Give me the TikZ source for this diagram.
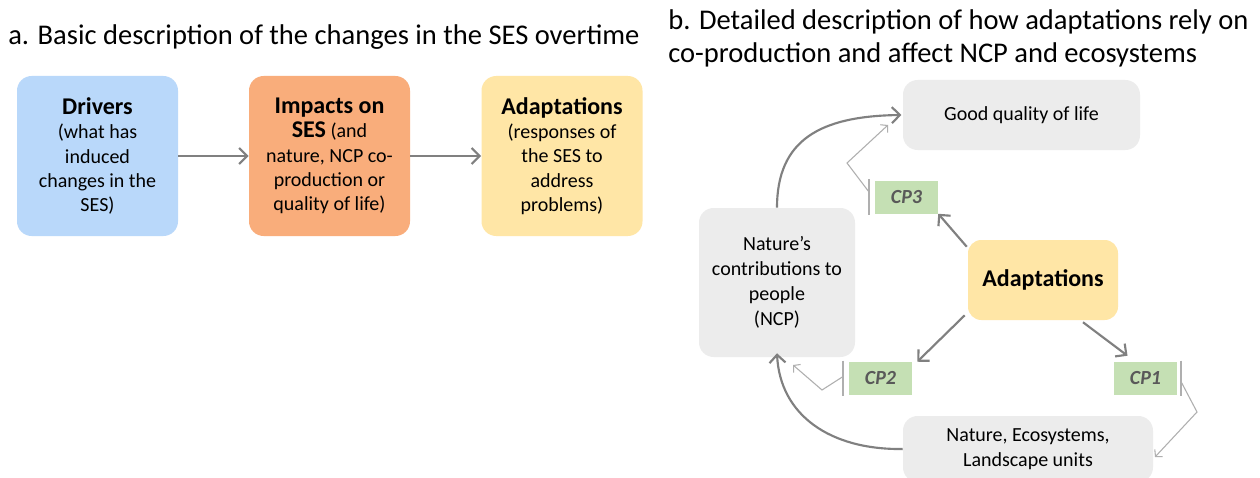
\documentclass[tikz,border=0pt]{standalone}
\usepackage{fontspec}
\setmainfont{Carlito}
\usetikzlibrary{arrows.meta,calc}
\definecolor{drvblue}{RGB}{185,216,250}
\definecolor{impor}{RGB}{249,173,123}
\definecolor{adyel}{RGB}{255,230,166}
\definecolor{boxgray}{RGB}{236,236,236}
\definecolor{cpgreen}{RGB}{197,224,180}
\definecolor{arrgray}{RGB}{128,128,128}
\definecolor{thingray}{RGB}{175,175,175}
\definecolor{cptext}{RGB}{89,89,89}
\newcommand{\hd}[1]{{\fontsize{18}{21}\selectfont\bfseries #1}}
\tikzset{
  bigbox/.style={rectangle, rounded corners=11pt, inner sep=0pt, align=center,
    minimum width=120.75pt, minimum height=120pt, font=\fontsize{15}{18.3}\selectfont},
  graybox/.style={rectangle, rounded corners=11pt, inner sep=0pt, align=center,
    fill=boxgray, font=\fontsize{15}{18.6}\selectfont},
  cpbox/.style={rectangle, fill=cpgreen, inner sep=0pt, minimum width=47.25pt,
    minimum height=24.75pt, text=cptext, font=\fontsize{15}{18}\selectfont\bfseries\itshape},
  mainarrow/.style={draw=arrgray, line width=1.6pt, -{Straight Barb[length=6pt,width=12pt,line width=1.6pt]}},
  thinarrow/.style={draw=thingray, line width=0.8pt, -{Straight Barb[length=3.5pt,width=8pt,line width=0.8pt]}},
  cpbar/.style={draw=thingray, line width=1.2pt},
  titletext/.style={anchor=base west, inner sep=0pt, font=\fontsize{21.4}{25}\selectfont}
}
\begin{document}
\begin{tikzpicture}[x=0.75pt,y=-0.75pt]
\useasboundingbox[fill=white] (0,0) rectangle (1260,478);
% titles
\node[titletext] (ta) at (8,45) {a. Basic description of the changes in the SES overtime};
\node[titletext] (tb1) at (668,30) {b. Detailed description of how adaptations rely on};
\node[titletext] (tb2) at (668,63) {co-production and affect NCP and ecosystems};
% part a
\node[bigbox, fill=drvblue] (drv) at (97.5,156) {\hd{Drivers}\\(what has\\induced\\changes in the\\SES)};
\node[bigbox, fill=impor] (imp) at (329.5,156) {\hd{Impacts on}\\\hd{SES} (and\\nature, NCP co-\\production or\\quality of life)};
\node[bigbox, fill=adyel] (ada) at (562,156) {\hd{Adaptations}\\(responses of\\the SES to\\address\\problems)};
\draw[mainarrow] (drv) -- (imp);
\draw[mainarrow] (imp) -- (ada);
% part b
\node[graybox, minimum width=177.75pt, minimum height=52.5pt] (good) at (1021.5,115) {Good quality of life};
\node[graybox, minimum width=117pt, minimum height=111.75pt] (ncp) at (777,282.5) {Nature’s\\contributions to\\people\\(NCP)};
\node[rectangle, rounded corners=10pt, inner sep=0pt, fill=adyel, minimum width=112.5pt, minimum height=60pt,
  font=\fontsize{18}{21}\selectfont\bfseries] (adb) at (1043,280) {Adaptations};
\node[graybox, minimum width=187.5pt, minimum height=49.5pt] (nat) at (1028,449) {Nature, Ecosystems,\\Landscape units};
\node[cpbox] (cp3) at (906.5,197) {CP3};
\node[cpbox] (cp2) at (880.5,378.5) {CP2};
\node[cpbox] (cp1) at (1145.5,378.5) {CP1};
% bars next to CP boxes
\coordinate (b3t) at ([shift={(-6,-1)}]cp3.north west);
\coordinate (b3b) at ([shift={(-6,1)}]cp3.south west);
\coordinate (b2t) at ([shift={(-6,-1)}]cp2.north west);
\coordinate (b2b) at ([shift={(-6,1)}]cp2.south west);
\coordinate (b1t) at ([shift={(4,-1)}]cp1.north east);
\coordinate (b1b) at ([shift={(4,1)}]cp1.south east);
\draw[cpbar] (b3t) -- (b3b);
\draw[cpbar] (b2t) -- (b2b);
\draw[cpbar] (b1t) -- (b1b);
% thin arrows from bars
\coordinate (s3) at ($(b3t)!0.35!(b3b)$);
\coordinate (k3) at (847,163);
\coordinate (e3) at (888,125);
\draw[thinarrow] (s3) -- (k3) -- (e3);
\coordinate (s2) at ($(b2t)!0.45!(b2b)$);
\coordinate (k2) at (822,390);
\coordinate (e2) at (793,365);
\draw[thinarrow] (s2) -- (k2) -- (e2);
\coordinate (s1) at ($(b1t)!0.6!(b1b)$);
\coordinate (k1) at (1197,412);
\coordinate (e1) at (1155,457);
\draw[thinarrow] (s1) -- (k1) -- (e1);
% main arrows from adaptations
\draw[mainarrow] ([shift={(-1,7)}]adb.north west) -- (cp3.south east);
\draw[mainarrow] ([shift={(-3,-5)}]adb.south west) -- ([shift={(5,0)}]cp2.north east);
\draw[mainarrow] ([shift={(40,2)}]adb.south) -- ([shift={(-18,-6)}]cp1.north);
% curved arrows
\draw[mainarrow] (ncp.north) .. controls (777,140) and (820,116) .. ([xshift=-1]good.west);
\draw[mainarrow] (nat.west) .. controls (830,450) and (780,415) .. ([yshift=3]ncp.south);
\end{tikzpicture}
\end{document}
